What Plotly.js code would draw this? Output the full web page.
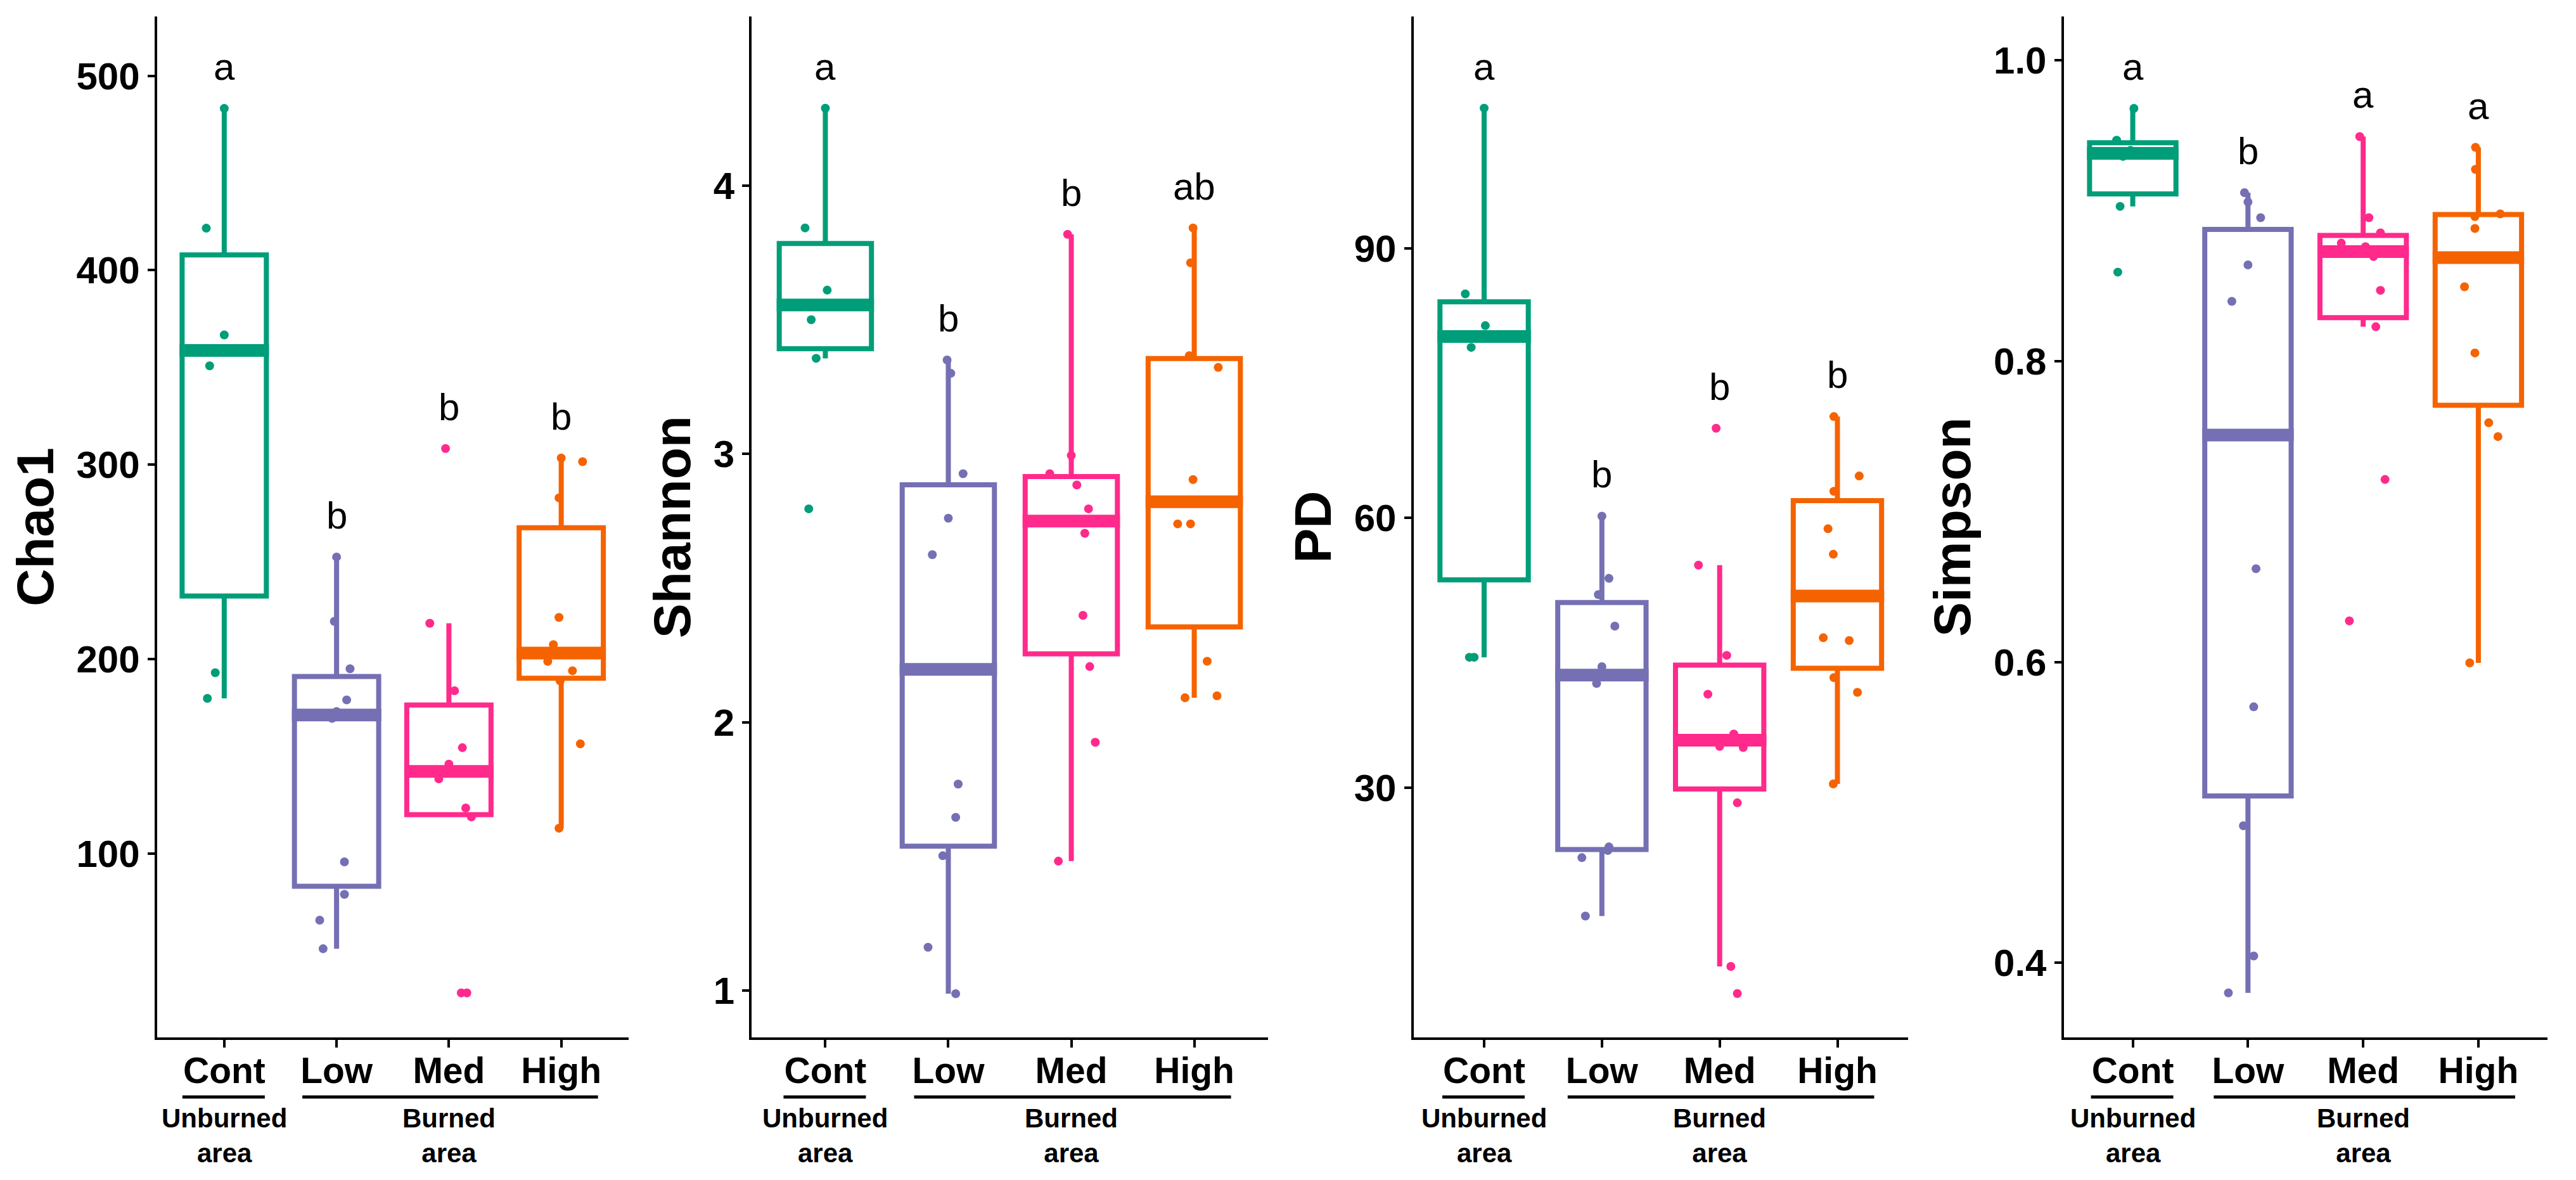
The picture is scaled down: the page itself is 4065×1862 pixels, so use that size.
<!DOCTYPE html>
<html>
<head>
<meta charset="utf-8">
<script src="https://cdn.plot.ly/plotly-3.0.1.min.js"></script>
<style>html,body{margin:0;padding:0;background:#fff;} #chart{width:4065px;height:1862px;}</style>
</head>
<body>
<div id="chart"></div>
<script>
// ---------------- DATA ----------------
const categories = ['Cont', 'Low', 'Med', 'High'];
const groupColors = ['#009E78', '#7570B3', '#FF2A8C', '#F56300'];

// Chao1
const chao1Cont = [483.2, 421.6, 366.7, 350.8, 193.0, 179.8];
const chao1ContJit = [0.00, -0.16, 0.00, -0.13, -0.08, -0.15];
const chao1Low = [252.5, 219.4, 195.0, 179.0, 173.0, 169.5, 95.7, 79.0, 65.7, 51.0];
const chao1LowJit = [0.00, -0.02, 0.12, 0.09, 0.00, -0.04, 0.07, 0.07, -0.15, -0.12];
const chao1Med = [308.3, 218.4, 183.7, 154.4, 146.0, 138.4, 123.4, 118.8, 28.3, 28.3];
const chao1MedJit = [-0.03, -0.17, 0.05, 0.12, 0.00, -0.09, 0.15, 0.20, 0.11, 0.16];
const chao1High = [303.4, 301.5, 282.9, 221.4, 207.4, 198.8, 194.0, 188.8, 156.4, 113.0];
const chao1HighJit = [0.00, 0.19, -0.02, -0.02, -0.07, -0.12, 0.10, -0.01, 0.17, -0.02];
const chao1Letters = ['a', 'b', 'b', 'b'];

// Shannon
const shannonCont = [4.288, 3.842, 3.610, 3.500, 3.356, 2.795];
const shannonContJit = [0.00, -0.165, 0.015, -0.115, -0.075, -0.135];
const shannonLow = [3.350, 3.300, 2.926, 2.760, 2.624, 1.769, 1.645, 1.502, 1.161, 0.988];
const shannonLowJit = [-0.01, 0.02, 0.12, 0.00, -0.13, 0.08, 0.06, -0.045, -0.165, 0.06];
const shannonMed = [3.818, 2.994, 2.926, 2.884, 2.795, 2.704, 2.398, 2.207, 1.925, 1.482];
const shannonMedJit = [-0.03, 0.00, -0.175, 0.045, 0.14, 0.11, 0.095, 0.15, 0.195, -0.105];
const shannonHigh = [3.842, 3.712, 3.366, 3.322, 2.904, 2.739, 2.739, 2.227, 2.098, 2.091];
const shannonHighJit = [-0.01, -0.03, -0.04, 0.195, -0.01, -0.135, -0.03, 0.105, 0.185, -0.075];
const shannonLetters = ['a', 'b', 'b', 'ab'];

// PD
const pdCont = [105.6, 84.93, 81.40, 78.98, 44.50, 44.50];
const pdContJit = [0.00, -0.16, 0.01, -0.11, -0.125, -0.085];
const pdLow = [60.20, 53.28, 51.47, 47.96, 43.46, 41.58, 23.40, 23.00, 22.20, 15.70];
const pdLowJit = [0.00, 0.06, -0.03, 0.11, 0.00, -0.045, 0.06, 0.05, -0.17, -0.14];
const pdMed = [69.98, 54.75, 44.71, 40.39, 35.96, 34.58, 34.46, 28.30, 10.10, 7.08];
const pdMedJit = [-0.03, -0.18, 0.06, -0.10, 0.12, 0.00, 0.20, 0.15, 0.095, 0.15];
const pdHigh = [71.28, 64.67, 62.97, 58.80, 55.96, 46.67, 46.36, 42.24, 40.60, 30.40];
const pdHighJit = [-0.03, 0.185, -0.03, -0.08, -0.035, -0.12, 0.10, -0.03, 0.17, -0.035];
const pdLetters = ['a', 'b', 'b', 'b'];

// Simpson
const simpsonCont = [0.9679, 0.9468, 0.9400, 0.9360, 0.9028, 0.8591];
const simpsonContJit = [0.01, -0.14, -0.02, -0.085, -0.11, -0.13];
const simpsonLow = [0.9119, 0.9057, 0.8953, 0.8639, 0.8397, 0.6620, 0.5702, 0.4912, 0.4046, 0.3801];
const simpsonLowJit = [-0.03, 0.00, 0.11, 0.00, -0.14, 0.07, 0.05, -0.04, 0.05, -0.17];
const simpsonMed = [0.9492, 0.8953, 0.8852, 0.8784, 0.8760, 0.8695, 0.8470, 0.8228, 0.7213, 0.6273];
const simpsonMedJit = [-0.03, 0.05, 0.15, -0.19, 0.02, 0.09, 0.15, 0.11, 0.19, -0.12];
const simpsonHigh = [0.9420, 0.9274, 0.8978, 0.8960, 0.8881, 0.8494, 0.8054, 0.7590, 0.7498, 0.5994];
const simpsonHighJit = [-0.025, -0.025, 0.19, -0.03, -0.03, -0.12, -0.03, 0.09, 0.17, -0.075];
const simpsonLetters = ['a', 'b', 'a', 'a'];

const groupNames = ['Unburned<br>area', 'Burned<br>area'];

// ---------------- PANEL OPTIONS ----------------
const W = 4065, H = 1862;
const panels = [
  {title: 'Chao1', groups: [chao1Cont, chao1Low, chao1Med, chao1High],
   jit: [chao1ContJit, chao1LowJit, chao1MedJit, chao1HighJit], letters: chao1Letters,
   range: [5.4, 530.5], tickvals: [100, 200, 300, 400, 500], fmt: 'd', px: [247.5, 992]},
  {title: 'Shannon', groups: [shannonCont, shannonLow, shannonMed, shannonHigh],
   jit: [shannonContJit, shannonLowJit, shannonMedJit, shannonHighJit], letters: shannonLetters,
   range: [0.825, 4.63], tickvals: [1, 2, 3, 4], fmt: 'd', px: [1186, 2001]},
  {title: 'PD', groups: [pdCont, pdLow, pdMed, pdHigh],
   jit: [pdContJit, pdLowJit, pdMedJit, pdHighJit], letters: pdLetters,
   range: [2.2, 115.8], tickvals: [30, 60, 90], fmt: 'd', px: [2230.5, 3011]},
  {title: 'Simpson', groups: [simpsonCont, simpsonLow, simpsonMed, simpsonHigh],
   jit: [simpsonContJit, simpsonLowJit, simpsonMedJit, simpsonHighJit], letters: simpsonLetters,
   range: [0.3505, 1.029], tickvals: [0.4, 0.6, 0.8, 1.0], fmt: '.1f', px: [3256.5, 4020]}
];

// ggplot-style (type 7) quantiles and 1.5*IQR whiskers
function quant(sorted, p) {
  const h = (sorted.length - 1) * p, lo = Math.floor(h), hi = Math.ceil(h);
  return sorted[lo] + (h - lo) * (sorted[hi] - sorted[lo]);
}
function boxStats(vals) {
  const s = vals.slice().sort((a, b) => a - b);
  const q1 = quant(s, 0.25), med = quant(s, 0.5), q3 = quant(s, 0.75);
  const iqr = q3 - q1;
  const lf = Math.min(...s.filter(v => v >= q1 - 1.5 * iqr));
  const uf = Math.max(...s.filter(v => v <= q3 + 1.5 * iqr));
  return {q1, med, q3, lf, uf, max: s[s.length - 1]};
}

const FONT = 'Liberation Sans, Arial, Helvetica, sans-serif';
const BOXW = 0.75, LINEW = 8, MEDW = 20;
const traces = [], medTraces = [], ptTraces = [];
const annotations = [], shapes = [];
const layout = {
  width: W, height: H, margin: {l: 0, r: 0, t: 0, b: 0},
  paper_bgcolor: '#ffffff', plot_bgcolor: 'rgba(0,0,0,0)', showlegend: false,
  font: {family: FONT, color: '#000000'}
};
const yDom = [(H - 1637) / H, (H - 26) / H];

panels.forEach((p, i) => {
  const sfx = i === 0 ? '' : String(i + 1);
  const xa = 'x' + sfx, ya = 'y' + sfx;
  const ppu = (p.px[1] - p.px[0]) / 4.2;   // pixels per category unit
  layout['xaxis' + sfx] = {
    domain: [p.px[0] / W, p.px[1] / W], anchor: ya, type: 'linear',
    range: [0.4, 4.6], tickvals: [1, 2, 3, 4], ticktext: categories,
    showline: true, linecolor: '#000', linewidth: 4, mirror: false,
    ticks: 'outside', ticklen: 12, tickwidth: 4, tickcolor: '#000',
    ticklabelstandoff: -12,
    showgrid: false, zeroline: false, fixedrange: true,
    tickfont: {family: FONT, size: 57, color: '#000', weight: 'bold'}
  };
  layout['yaxis' + sfx] = {
    domain: yDom, anchor: xa, type: 'linear', range: p.range,
    tickvals: p.tickvals, tickformat: p.fmt,
    showline: true, linecolor: '#000', linewidth: 4,
    ticks: 'outside', ticklen: 11, tickwidth: 4, tickcolor: '#000',
    showgrid: false, zeroline: false, fixedrange: true,
    tickfont: {family: FONT, size: 60, color: '#000', weight: 'bold'},
    title: {text: p.title, standoff: 10, font: {family: FONT, size: 82, color: '#000', weight: 'bold'}}
  };

  p.groups.forEach((vals, g) => {
    const pos = g + 1, col = groupColors[g];
    const st = boxStats(vals);
    traces.push({
      type: 'box', xaxis: xa, yaxis: ya, x: [pos],
      q1: [st.q1], median: [st.med], q3: [st.q3], lowerfence: [st.lf], upperfence: [st.uf],
      width: BOXW, whiskerwidth: 0, boxpoints: false,
      line: {color: col, width: LINEW}, fillcolor: 'rgba(255,255,255,0)',
      hoverinfo: 'skip', showlegend: false
    });
    const half = BOXW / 2 + (LINEW / 2) / ppu;
    medTraces.push({
      type: 'scatter', mode: 'lines', xaxis: xa, yaxis: ya,
      x: [pos - half, pos + half], y: [st.med, st.med],
      line: {color: col, width: MEDW}, hoverinfo: 'skip', showlegend: false
    });
    ptTraces.push({
      type: 'scatter', mode: 'markers', xaxis: xa, yaxis: ya,
      x: vals.map((v, k) => pos + p.jit[g][k]), y: vals,
      marker: {color: col, size: 14, line: {width: 0}},
      hoverinfo: 'skip', showlegend: false
    });
    annotations.push({
      xref: xa, yref: ya, x: pos, y: st.max, text: p.letters[g],
      showarrow: false, xanchor: 'center', yanchor: 'bottom', yshift: 30,
      font: {family: FONT, size: 60, color: '#000'}
    });
  });

  // group labels below the axis
  const barY = (H - 1731) / H, txtY = (H - 1791.5) / H;
  shapes.push({type: 'line', xref: xa, yref: 'paper', x0: 1 - 66 / ppu, x1: 1 + 64 / ppu,
               y0: barY, y1: barY, line: {color: '#000', width: 5}});
  shapes.push({type: 'line', xref: xa, yref: 'paper', x0: 2 - 54 / ppu, x1: 4 + 58 / ppu,
               y0: barY, y1: barY, line: {color: '#000', width: 5}});
  annotations.push({xref: xa, yref: 'paper', x: 1, y: txtY, text: groupNames[0], showarrow: false,
    xanchor: 'center', yanchor: 'middle', font: {family: FONT, size: 42, color: '#000', weight: 'bold'}});
  annotations.push({xref: xa, yref: 'paper', x: 3, y: txtY, text: groupNames[1], showarrow: false,
    xanchor: 'center', yanchor: 'middle', font: {family: FONT, size: 42, color: '#000', weight: 'bold'}});
});

layout.annotations = annotations;
layout.shapes = shapes;

Plotly.newPlot('chart', traces.concat(medTraces, ptTraces), layout,
  {displayModeBar: false, staticPlot: true});
</script>
</body>
</html>
